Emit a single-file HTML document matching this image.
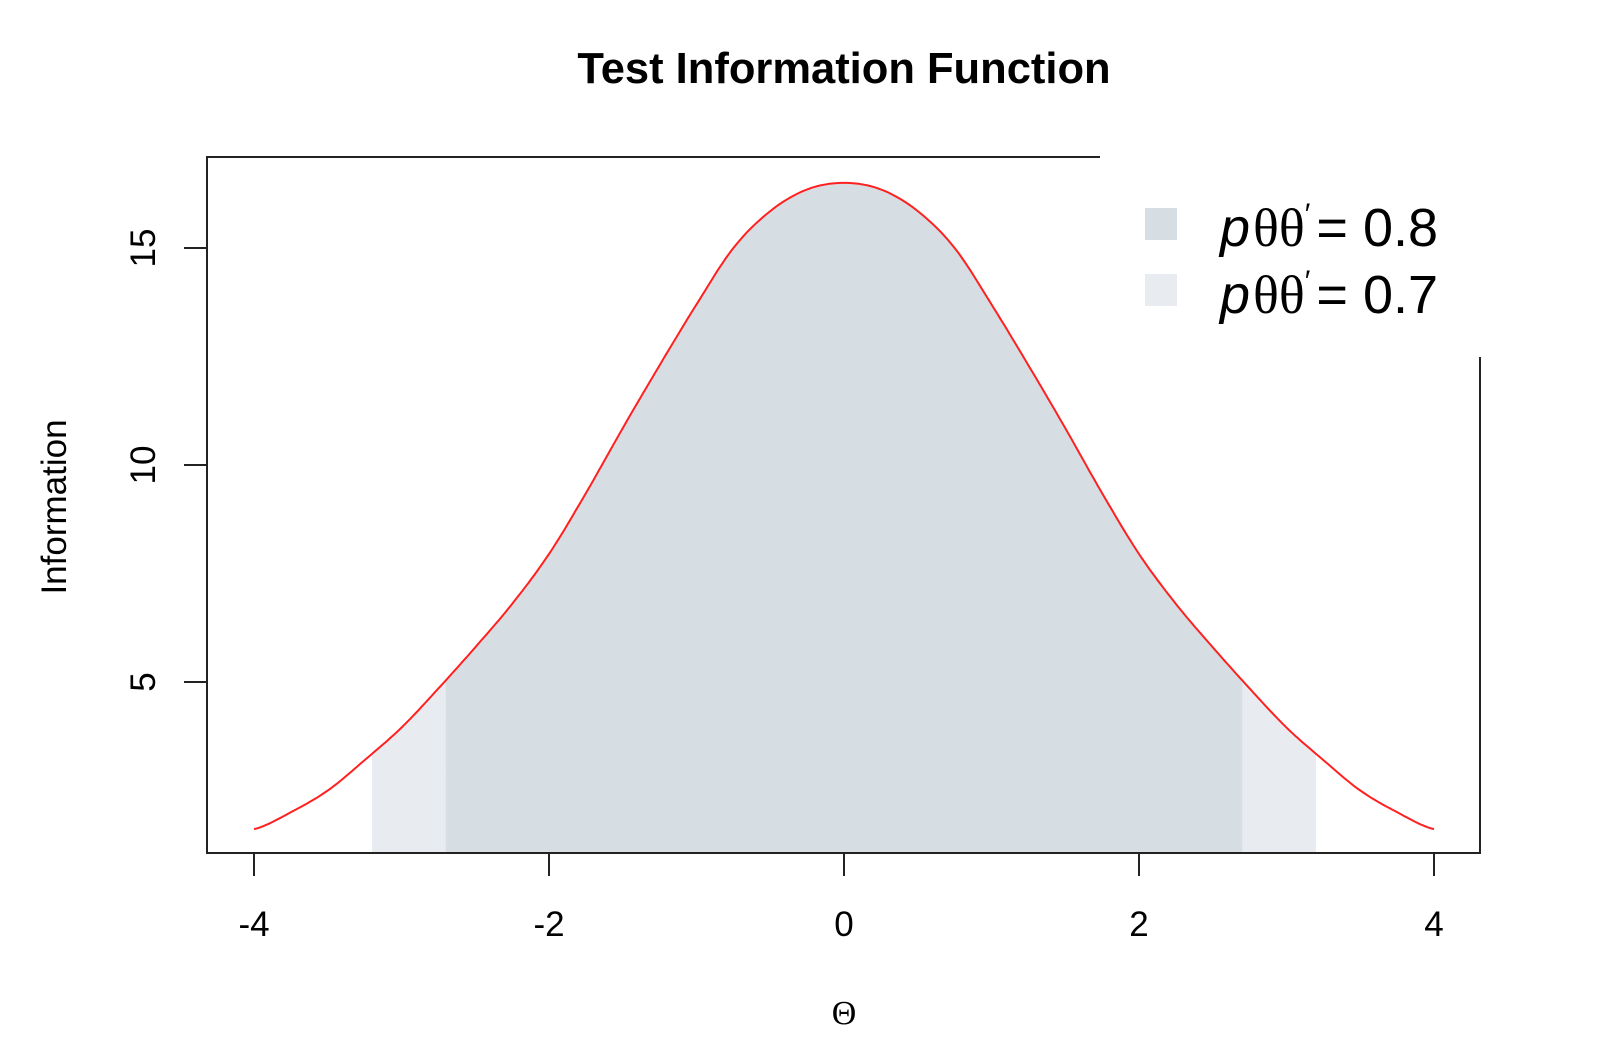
<!DOCTYPE html>
<html><head><meta charset="utf-8"><style>
html,body{margin:0;padding:0;background:#fff;}
svg{display:block;font-family:"Liberation Sans",sans-serif;}
</style></head><body>
<svg id="chart" width="1620" height="1058" viewBox="0 0 1620 1058" xmlns="http://www.w3.org/2000/svg">
<text x="844" y="83" text-anchor="middle" font-size="43.5" font-weight="bold">Test Information Function</text>
<g id="shades"></g>
<path id="curve" fill="none" stroke="#ff2020" stroke-width="2"/>
<rect x="207" y="157" width="1273" height="696" fill="none" stroke="#222" stroke-width="2"/>
<g id="xaxis"></g><g id="yaxis"></g>
<text transform="translate(66,507) rotate(-90)" text-anchor="middle" font-size="35">Information</text>
<text x="844" y="1024" text-anchor="middle" font-size="34" font-family="Liberation Serif, serif">Θ</text>
<g>
<rect x="1100" y="154" width="383" height="203" fill="#fff"/>
<rect x="1145" y="208" width="32" height="32" fill="#d6dde3"/>
<rect x="1145" y="274" width="32" height="32" fill="#e8ecf0"/>
<text x="1220" y="246" font-size="54"><tspan font-style="italic">p</tspan><tspan font-family="Liberation Serif, serif" dx="3">θθ</tspan><tspan dy="-22" font-size="30">′</tspan><tspan dy="22" dx="6">= 0.8</tspan></text>
<text x="1220" y="313" font-size="54"><tspan font-style="italic">p</tspan><tspan font-family="Liberation Serif, serif" dx="3">θθ</tspan><tspan dy="-22" font-size="30">′</tspan><tspan dy="22" dx="6">= 0.7</tspan></text>
</g>
</svg>
<script>
const thetaVals = [-4,-3.75,-3.5,-3.25,-3,-2.75,-2.5,-2.25,-2,-1.75,-1.5,-1.25,-1,-0.75,-0.5,-0.25,0,0.25,0.5,0.75,1,1.25,1.5,1.75,2,2.25,2.5,2.75,3,3.25,3.5,3.75,4];
const infoVals = [1.61,2.0,2.5,3.2,3.95,4.85,5.8,6.8,7.95,9.35,10.85,12.3,13.7,15.0,15.85,16.35,16.5,16.35,15.85,15.0,13.7,12.3,10.85,9.35,7.95,6.8,5.8,4.85,3.95,3.2,2.5,2.0,1.61];
const bandLimits = [3.2, 2.7];
const bandLabels = ['0.7','0.8'];
const xTicks = [-4,-2,0,2,4];
const yTicks = [5,10,15];
const NS='http://www.w3.org/2000/svg';
const X = t => 844 + 147.5*t;
const Y = v => 682 - (v-5)*43.4;
const BOTTOM = 853;
function interp(t){
  for(let i=0;i<thetaVals.length-1;i++){
    if(t>=thetaVals[i]&&t<=thetaVals[i+1]){
      const a=thetaVals[i],b=thetaVals[i+1];
      const p0=infoVals[Math.max(i-1,0)],p1=infoVals[i],p2=infoVals[i+1],p3=infoVals[Math.min(i+2,infoVals.length-1)];
      const u=(t-a)/(b-a);
      return 0.5*((2*p1)+(-p0+p2)*u+(2*p0-5*p1+4*p2-p3)*u*u+(-p0+3*p1-3*p2+p3)*u*u*u);
    }
  }
  return infoVals[infoVals.length-1];
}
function curvePts(lo,hi){
  const pts=[];const n=Math.ceil((hi-lo)/0.02);
  for(let k=0;k<=n;k++){const t=lo+(hi-lo)*k/n;pts.push([X(t),Y(interp(t))]);}
  return pts;
}
const shades=document.getElementById('shades');
const colors=['#e8ecf0','#d6dde3'];
bandLimits.forEach((L,i)=>{
  const p=document.createElementNS(NS,'path');
  const pts=curvePts(-L,L);
  let d='M'+X(-L)+','+BOTTOM+' '+pts.map(q=>'L'+q[0].toFixed(1)+','+q[1].toFixed(1)).join(' ')+' L'+X(L)+','+BOTTOM+'Z';
  p.setAttribute('d',d);p.setAttribute('fill',colors[i]);
  
  
  shades.appendChild(p);
});
const all=curvePts(thetaVals[0],thetaVals[thetaVals.length-1]);
document.getElementById('curve').setAttribute('d','M'+all.map(q=>q[0].toFixed(1)+','+q[1].toFixed(1)).join(' L'));
const xa=document.getElementById('xaxis');
xTicks.forEach(t=>{
  const l=document.createElementNS(NS,'line');
  l.setAttribute('x1',X(t));l.setAttribute('x2',X(t));l.setAttribute('y1',BOTTOM);l.setAttribute('y2',BOTTOM+23);
  l.setAttribute('stroke','#222');l.setAttribute('stroke-width','2');
  
  
  xa.appendChild(l);
  const tx=document.createElementNS(NS,'text');
  tx.setAttribute('x',X(t));tx.setAttribute('y',936);tx.setAttribute('text-anchor','middle');tx.setAttribute('font-size','35');
  tx.textContent=String(t);
  
  
  xa.appendChild(tx);
});
const ya=document.getElementById('yaxis');
yTicks.forEach(v=>{
  const l=document.createElementNS(NS,'line');
  l.setAttribute('x1',184);l.setAttribute('x2',207);l.setAttribute('y1',Y(v));l.setAttribute('y2',Y(v));
  l.setAttribute('stroke','#222');l.setAttribute('stroke-width','2');
  
  
  ya.appendChild(l);
  const tx=document.createElementNS(NS,'text');
  tx.setAttribute('transform','translate(155,'+Y(v)+') rotate(-90)');tx.setAttribute('text-anchor','middle');tx.setAttribute('font-size','35');
  tx.textContent=String(v);
  
  
  ya.appendChild(tx);
});
</script>
</body></html>
